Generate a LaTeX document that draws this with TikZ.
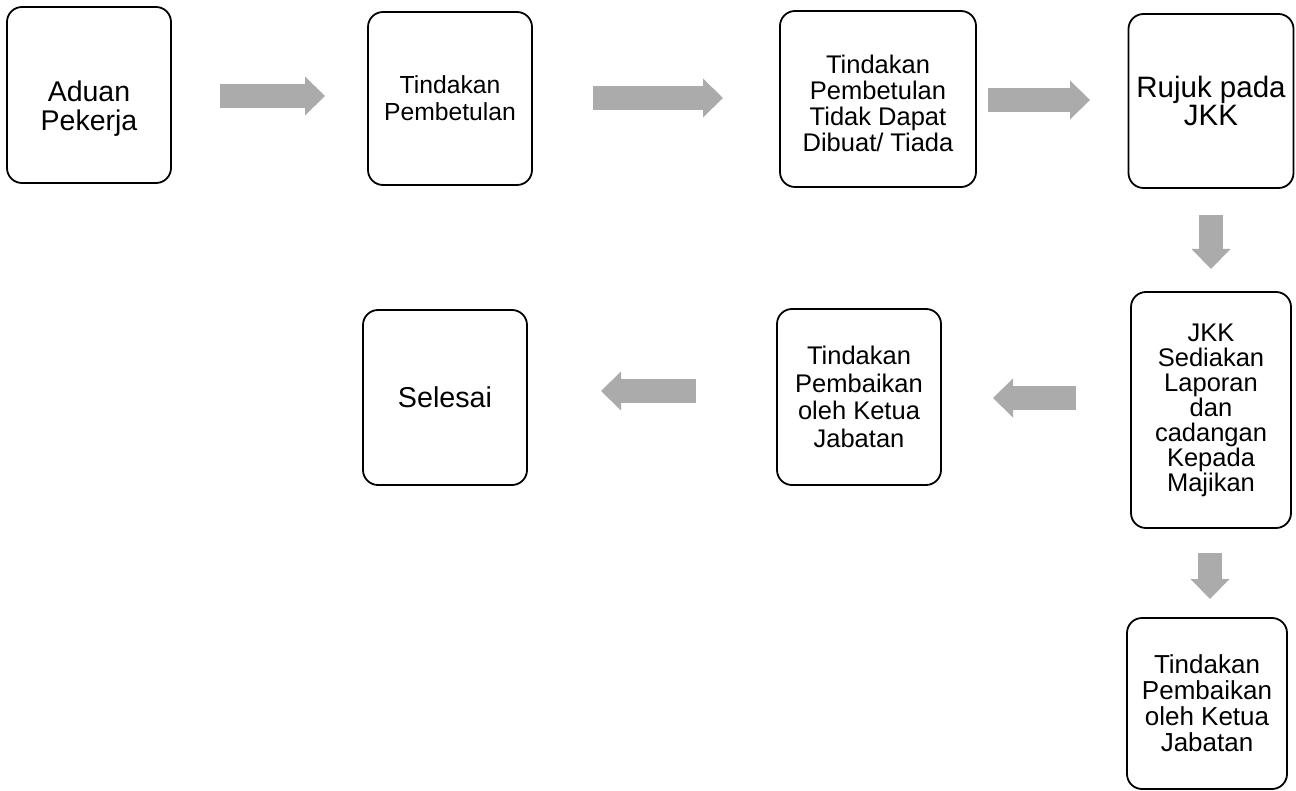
\documentclass[tikz,border=0pt]{standalone}
\usepackage{fontspec}
\setmainfont{Liberation Sans}
\usetikzlibrary{arrows.meta}
\definecolor{arrowgray}{HTML}{ABABAB}
\tikzset{
  stepbox/.style={draw, line width=1.8pt, rounded corners=15pt, align=center, inner sep=0pt},
  flowarrow/.style={draw=arrowgray, line width=24pt, -{Triangle[length=20pt,width=39pt,line width=0pt,fill=arrowgray]}}
}
\begin{document}
\begin{tikzpicture}[x=1pt,y=-1pt]
\useasboundingbox (0,0) rectangle (1296,791);
% boxes
\node[stepbox, minimum width=164, minimum height=176, font=\fontsize{28.5}{29}\selectfont] (aduan) at (89,95) {\rule{0pt}{48pt}Aduan\\Pekerja};
\node[stepbox, minimum width=164, minimum height=173, font=\fontsize{24.7}{27}\selectfont] (pembetulan) at (450,98.5) {Tindakan\\Pembetulan};
\node[stepbox, minimum width=196, minimum height=176, font=\fontsize{25.5}{26}\selectfont] (tiada) at (878,99) {\rule{0pt}{28pt}Tindakan\\Pembetulan\\Tidak Dapat\\Dibuat/ Tiada};
\node[stepbox, minimum width=165, minimum height=174, font=\fontsize{29.5}{28}\selectfont] (rujuk) at (1211,101) {Rujuk pada\\JKK};
\node[stepbox, minimum width=160, minimum height=236, font=\fontsize{25.5}{25}\selectfont] (laporan) at (1211,410) {JKK\\Sediakan\\Laporan\\dan\\cadangan\\Kepada\\Majikan};
\node[stepbox, minimum width=160, minimum height=171, font=\fontsize{26}{26}\selectfont] (pembaikanb) at (1207,703.5) {Tindakan\\Pembaikan\\oleh Ketua\\Jabatan};
\node[stepbox, minimum width=164, minimum height=176, font=\fontsize{25.5}{27.7}\selectfont] (pembaikana) at (859,397) {Tindakan\\Pembaikan\\oleh Ketua\\Jabatan};
\node[stepbox, minimum width=164, minimum height=175, font=\fontsize{28.7}{29}\selectfont] (selesai) at (445,397.5) {Selesai};
% arrow ends
\coordinate (a1s) at (220,96);  \coordinate (a1e) at (325,96);
\coordinate (a2s) at (593,98);  \coordinate (a2e) at (723,98);
\coordinate (a3s) at (988,100); \coordinate (a3e) at (1090,100);
\coordinate (a4s) at (1211,215); \coordinate (a4e) at (1211,269);
\coordinate (a5s) at (1076,398); \coordinate (a5e) at (993,398);
\coordinate (a6s) at (696,391); \coordinate (a6e) at (601,391);
\coordinate (a7s) at (1210,553); \coordinate (a7e) at (1210,599);
% block arrows
\draw[flowarrow] (a1s) -- (a1e);
\draw[flowarrow] (a2s) -- (a2e);
\draw[flowarrow] (a3s) -- (a3e);
\draw[flowarrow] (a4s) -- (a4e);
\draw[flowarrow] (a5s) -- (a5e);
\draw[flowarrow] (a6s) -- (a6e);
\draw[flowarrow] (a7s) -- (a7e);
\end{tikzpicture}
\end{document}
